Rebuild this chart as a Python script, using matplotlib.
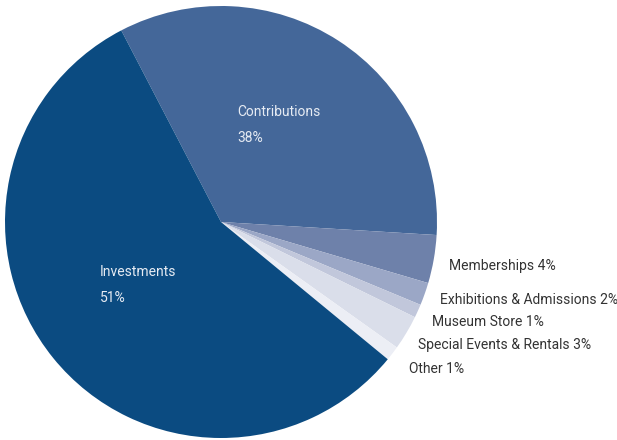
import matplotlib.pyplot as plt

# shares as drawn in the picture (labels show the rounded figures)
categories = ['Contributions', 'Memberships', 'Exhibitions & Admissions',
              'Museum Store', 'Special Events & Rentals', 'Other', 'Investments']
shares = [33.6, 3.6, 1.7, 1.0, 2.6, 1.1, 56.4]
pct_labels = ['38%', '4%', '2%', '1%', '3%', '1%', '51%']
colors = ['#446799', '#6e81aa', '#9ba7c6', '#c1c7db', '#dadeea', '#eceef5', '#0b4b81']

plt.rcParams['font.family'] = ['Roboto', 'DejaVu Sans']

W, H = 617, 440
cx, cy, r = 221, 222, 216
fs = 10

fig = plt.figure(figsize=(W / 100, H / 100), dpi=100)
ax = fig.add_axes([(cx - r) / W, (H - cy - r) / H, 2 * r / W, 2 * r / H])
ax.pie(shares, colors=colors, startangle=117.5, counterclock=False,
       radius=1, wedgeprops=dict(linewidth=0))
ax.set_xlim(-1, 1)
ax.set_ylim(-1, 1)
ax.axis('off')


def px(x, y):
    return (x - cx) / r, (cy - y) / r


# labels inside the big slices
inside = {'Contributions': (237, 112, 138), 'Investments': (100, 272, 298)}
for name, (x, y1, y2) in inside.items():
    i = categories.index(name)
    ax.text(*px(x, y1), name, color='#e6ebf3', fontsize=fs, ha='left', va='center')
    ax.text(*px(x, y2), pct_labels[i], color='#e6ebf3', fontsize=fs, ha='left', va='center')

# labels outside the small slices
outside = {'Memberships': (449, 266), 'Exhibitions & Admissions': (440, 300),
           'Museum Store': (432, 322), 'Special Events & Rentals': (418, 345),
           'Other': (409, 369)}
for name, (x, y) in outside.items():
    i = categories.index(name)
    ax.text(*px(x, y), f'{name} {pct_labels[i]}', color='#333333', fontsize=fs,
            ha='left', va='center', clip_on=False)

fig.savefig('out.png', dpi=100)
